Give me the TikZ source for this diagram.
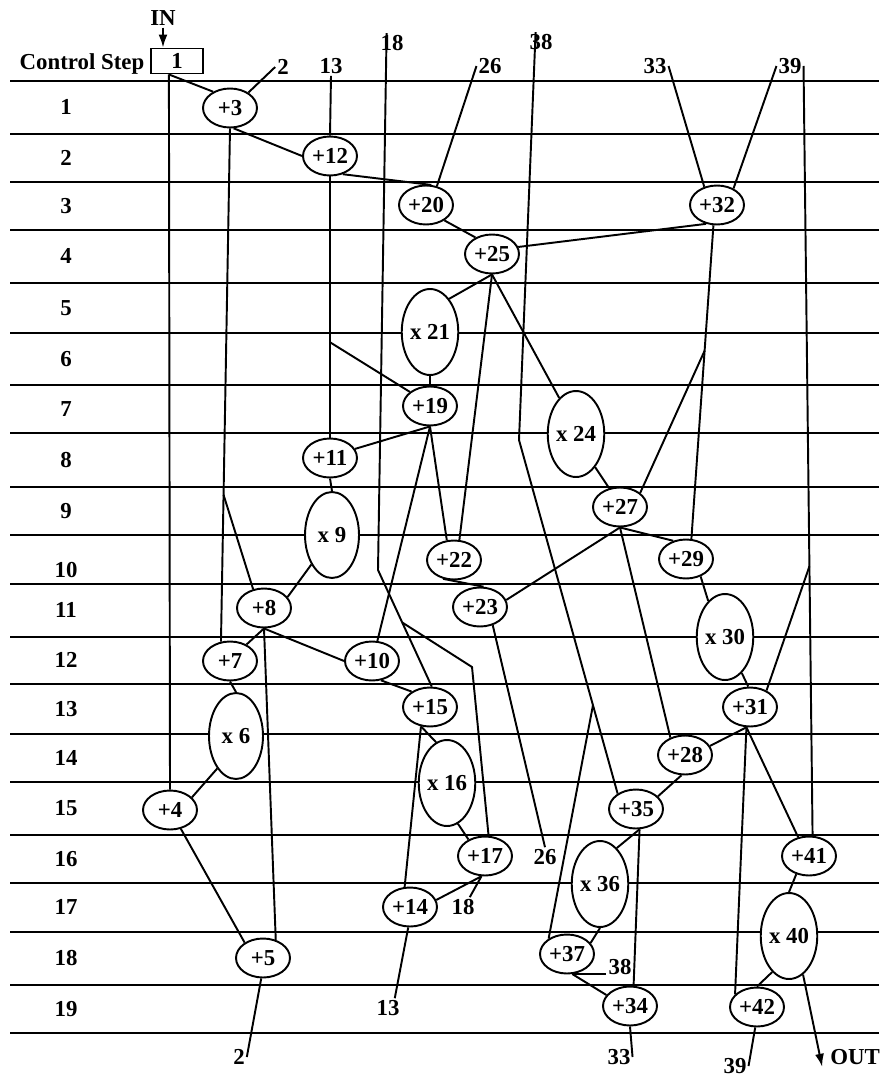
\documentclass[tikz,border=0pt]{standalone}
\usepackage{fontspec}
\setmainfont{Liberation Serif}
\usetikzlibrary{arrows.meta, shapes.geometric, calc}

\begin{document}
\begin{tikzpicture}[x=0.02cm, y=-0.02cm,
  font=\fontsize{13}{15}\selectfont\bfseries,
  rule/.style={line width=1.1pt},
  wire/.style={line width=1.1pt},
  arr/.style={wire, -{Latex[length=2.6mm, width=1.8mm]}},
  addop/.style={ellipse, draw, fill=white, line width=1.1pt, inner sep=0pt, minimum width=1.08cm, minimum height=0.78cm},
  mulop/.style={addop, minimum height=1.72cm},
  lbl/.style={inner sep=1pt}]
  \path[use as bounding box, fill=white] (0,0) rectangle (879,1078);
  \foreach \y in {81,134,182,230,283,333,385,433,487,535,584,637,684,734,782,835,883,932,985,1033}
    \draw[rule] (10,\y) -- (879,\y);
  \foreach \r/\y in {1/107,2/158,3/206,4/256,5/308,6/359,7/409,8/460,9/511,10/570,11/610,12/660,13/709,14/758,15/808,16/859,17/907,18/958,19/1009}
    \node[lbl] (r\r) at (66,\y) {\r};
  \node[lbl] (cs) at (82,64) {Control Step};
  \node[draw, line width=1.1pt, minimum width=1.04cm, minimum height=0.5cm, inner sep=0pt] (csbox) at (177,61) {1};
  \node[lbl] (in) at (163,18) {IN};
  \node[lbl] (in2) at (283,67) {2};
  \node[lbl] (in13) at (331,66) {13};
  \node[lbl] (in18) at (392,43) {18};
  \node[lbl] (in26) at (490,66) {26};
  \node[lbl] (in38) at (541,42) {38};
  \node[lbl] (in33) at (655,66) {33};
  \node[lbl] (in39) at (790,66) {39};
  \node[lbl] (out2) at (239,1057) {2};
  \node[lbl] (out13) at (388,1008) {13};
  \node[lbl] (out18) at (463,907) {18};
  \node[lbl] (out26) at (545,857) {26};
  \node[lbl] (out38) at (620,967) {38};
  \node[lbl] (out33) at (619,1057) {33};
  \node[lbl] (out39) at (735,1066) {39};
  \node[lbl] (outlbl) at (855,1057) {OUT};

  \node[addop] (n3) at (230,108) {+3};
  \node[addop] (n12) at (330,156) {+12};
  \node[addop] (n20) at (426,205) {+20};
  \node[addop] (n32) at (717,205) {+32};
  \node[addop] (n25) at (492,254) {+25};
  \node[mulop] (n21) at (430,332) {x 21};
  \node[addop] (n19) at (430,406) {+19};
  \node[mulop] (n24) at (576,434) {x 24};
  \node[addop] (n27) at (620,507) {+27};
  \node[addop] (n11) at (330,458) {+11};
  \node[mulop] (n9) at (332,535) {x 9};
  \node[addop] (n22) at (454,560) {+22};
  \node[addop] (n23) at (480,607) {+23};
  \node[addop] (n29) at (686,559) {+29};
  \node[mulop] (n30) at (725,637) {x 30};
  \node[addop] (n31) at (750,707) {+31};
  \node[addop] (n28) at (685,755) {+28};
  \node[addop] (n8) at (264,608) {+8};
  \node[addop] (n7) at (230,661) {+7};
  \node[mulop] (n6) at (236,736) {x 6};
  \node[addop] (n10) at (372,661) {+10};
  \node[addop] (n15) at (430,707) {+15};
  \node[mulop] (n16) at (447,783) {x 16};
  \node[addop] (n17) at (485,856) {+17};
  \node[addop] (n14) at (410,907) {+14};
  \node[addop] (n4) at (170,810) {+4};
  \node[addop] (n5) at (263,958) {+5};
  \node[addop] (n35) at (636,809) {+35};
  \node[mulop] (n36) at (600,884) {x 36};
  \node[addop] (n37) at (567,954) {+37};
  \node[addop] (n34) at (630,1006) {+34};
  \node[addop] (n41) at (809,856) {+41};
  \node[mulop] (n40) at (789,936) {x 40};
  \node[addop] (n42) at (757,1007) {+42};

  \coordinate (inbus) at ($(csbox.south west)!0.35!(csbox.south east)$);
  \coordinate (in18top) at ($(in18.north west)!0.3!(in18.north east)$);
  \coordinate (in38top) at ($(in38.north west)!0.3!(in38.north east)$);
  \coordinate (out18top) at ($(out18.north)!0.5!(out18.north east)$);
  \coordinate (out13top) at ($(out13.north)!0.5!(out13.north east)$);
  \coordinate (k18) at (378,570);
  \coordinate (k17) at (472,667);
  \coordinate (k38) at (519,440);
  \coordinate (j18) at ($(k18)!0.45!(n15.85)$);
  \coordinate (j38) at ($(k38)!0.75!(n35.140)$);
  \coordinate (j39) at ($(in39.east)!0.65!(n41.80)$);
  \coordinate (j3) at ($(n3.south)!0.714!(n7.115)$);
  \coordinate (j12) at ($(n12.south)!0.635!(n11.north)$);
  \coordinate (j32) at ($(n32.-100)!0.40!(n29.75)$);

  \draw[arr] (in.south) -- (in.south |- csbox.north);
  \foreach \a/\b in {inbus/n3.136, inbus/n4.north, in2.west/n3.40, in13.south/n12.north,
      in26.west/n20.60, in33.east/n32.125, in39.west/n32.45, in39.east/n41.80, j39/n31.45, j38/n37.140,
      n3.-80/n12.west, n3.south/n7.115, j3/n8.120,
      n12.-55/n20.75, n12.south/n11.north, j12/n19.145,
      n20.-40/n25.135, n32.-120/n25.15, n32.-100/n29.75, j32/n27.35,
      n25.south/n21.60, n25.south/n22.75, n25.south/n24.115, n21.south/n19.north,
      n19.south/n11.20, n19.south/n22.110, n19.south/n10.75,
      n11.south/n9.north, n9.-125/n8.25, n24.-60/n27.120,
      n27.south/n23.15, n27.south/n29.125, n27.south/n28.130,
      n22.-120/n23.80, n23.-55/out26.north, n29.-50/n30.115, n30.-65/n31.95,
      n31.-100/n28.20, n31.-100/n42.150, n31.-100/n41.120, n28.-100/n35.30,
      n35.-80/n36.65, n35.-80/n34.80, n36.south/n37.25, n37.-75/n34.155, n34.south/out33.east,
      n41.-125/n40.north, n40.-115/n42.north, n42.-95/out39.east,
      n8.south/n7.45, n8.south/n10.west, n8.south/n5.55,
      n7.south/n6.north, n6.-120/n4.30, n4.-60/n5.140, n5.-95/out2.east,
      n10.-65/n15.140, n15.-115/n16.105, n15.-115/n14.105, n16.-75/n17.135,
      n17.-100/n14.15, n17.-100/out18top, n14.-95/out13top}
    \draw[wire] (\a) -- (\b);
  \draw[wire] (in18top) -- (k18) -- (n15.85);
  \draw[wire] (j18) -- (k17) -- (n17.80);
  \draw[wire] (in38top) -- (k38) -- (n35.140);
  \draw[wire] (n37.-75) -- (n37.-75 -| out38.west);
  \draw[arr] (n40.-70) -- ($(outlbl.south west)+(-6,0)$);
\end{tikzpicture}
\end{document}
